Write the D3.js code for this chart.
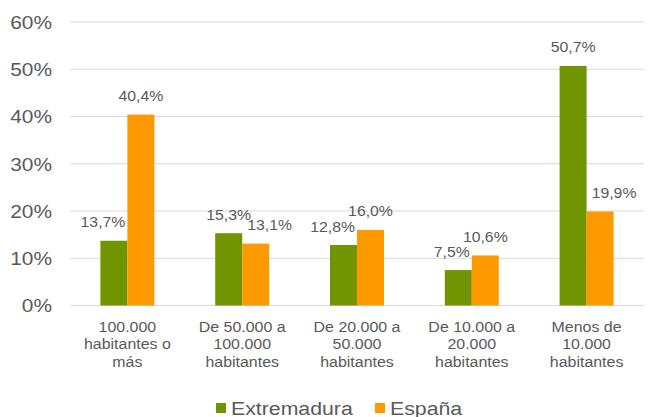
<!DOCTYPE html>
<html>
<head>
<meta charset="utf-8">
<script src="https://cdn.jsdelivr.net/npm/d3@7"></script>
<style>
    body { margin: 0; background: #fff; }
    text { font-family: "Liberation Sans", Arial, sans-serif; fill: #595959; }
</style>
</head>
<body>
<div id="chart"></div>
<script>
var categories = [
    ["100.000", "habitantes o", "más"],
    ["De 50.000 a", "100.000", "habitantes"],
    ["De 20.000 a", "50.000", "habitantes"],
    ["De 10.000 a", "20.000", "habitantes"],
    ["Menos de", "10.000", "habitantes"]
];
var seriesNames = ["Extremadura", "España"];
var extremadura = [13.7, 15.3, 12.8, 7.5, 50.7];
var espana = [40.4, 13.1, 16.0, 10.6, 19.9];
var yTicks = [0, 10, 20, 30, 40, 50, 60];

(function () {
    "use strict";

    var width = 649,
        height = 417,
        colors = ["#709500", "#ff9900"],
        series = [extremadura, espana],
        labelScale = 1.13,
        labelLift = 13.5;

    // text in the source is a little stretched sideways
    function place(px, py, sx) {
        return "translate(" + px + "," + py + ") scale(" + sx + ",1)";
    }

    var svg = d3.select("#chart").append("svg")
        .attr("width", width)
        .attr("height", height);

    var x = d3.scaleBand()
        .domain(d3.range(categories.length))
        .range([70, 644]);

    var x1 = d3.scaleBand()
        .domain(d3.range(series.length))
        .range([0, 54]);

    var y = d3.scaleLinear()
        .domain([0, 60])
        .range([305.5, 22]);

    // gridlines
    svg.append("g")
        .selectAll("line")
        .data(yTicks)
        .enter()
        .append("line")
        .attr("x1", 70)
        .attr("x2", 644)
        .attr("y1", function (d) { return y(d); })
        .attr("y2", function (d) { return y(d); })
        .attr("stroke", "#d9d9d9")
        .attr("stroke-width", 1);

    // y tick labels
    svg.append("g")
        .selectAll("text")
        .data(yTicks)
        .enter()
        .append("text")
        .attr("transform", function (d) { return place(52, y(d), 1.1); })
        .attr("dy", "0.36em")
        .attr("text-anchor", "end")
        .style("font-size", "19px")
        .text(function (d) { return d + "%"; });

    // bars
    var groups = svg.append("g")
        .selectAll("g")
        .data(categories)
        .enter()
        .append("g")
        .attr("transform", function (d, i) {
            return "translate(" + (x(i) + x.bandwidth() / 2 - 27) + ",0)";
        });

    function cells(d, i) {
        return series.map(function (s, j) { return {s: j, i: i, v: s[i]}; });
    }

    groups.selectAll("rect")
        .data(cells)
        .enter()
        .append("rect")
        .attr("x", function (d) { return x1(d.s); })
        .attr("width", x1.bandwidth())
        .attr("y", function (d) { return y(d.v); })
        .attr("height", function (d) { return y(0) - y(d.v); })
        .attr("fill", function (d) { return colors[d.s]; });

    var labels = groups.selectAll("text.val")
        .data(cells)
        .enter()
        .append("text")
        .attr("class", "val")
        .attr("text-anchor", "middle")
        .style("font-size", "14px")
        .text(function (d) { return d.v.toFixed(1).replace(".", ",") + "%"; });

    // push a label sideways when the neighbour bar or label gets in its way
    labels.attr("transform", function (d) {
        var w = this.getComputedTextLength() * labelScale,
            base = y(d.v) - labelLift,
            cx = x1(d.s) + x1.bandwidth() / 2;
        if (d.s === 0) {
            var other = y(espana[d.i]);
            if (other < base + 3) {
                cx = x1(1) - 2 - w / 2;
            }
        } else {
            var greenTop = y(extremadura[d.i]) - labelLift - 11;
            if (base + 3 > greenTop && extremadura[d.i] > d.v) {
                cx = x1(0) + x1.bandwidth() + 5 + w / 2;
            }
        }
        return place(cx, base, labelScale);
    });

    // category labels
    var cat = svg.append("g")
        .selectAll("text")
        .data(categories)
        .enter()
        .append("text")
        .attr("text-anchor", "middle")
        .attr("transform", function (d, i) {
            return place(x(i) + x.bandwidth() / 2, 332, 1.1);
        })
        .style("font-size", "14.5px");

    cat.selectAll("tspan")
        .data(function (d) { return d; })
        .enter()
        .append("tspan")
        .attr("x", 0)
        .attr("dy", function (d, i) { return i === 0 ? 0 : 17.5; })
        .text(function (d) { return d; });

    // legend
    var legendX = [216, 375];
    var legend = svg.append("g")
        .selectAll("g")
        .data(seriesNames)
        .enter()
        .append("g")
        .attr("transform", function (d, i) {
            return "translate(" + legendX[i] + ",403)";
        });

    legend.append("rect")
        .attr("width", 10)
        .attr("height", 10)
        .attr("fill", function (d, i) { return colors[i]; });

    legend.append("text")
        .attr("transform", place(15, 5, 1.12))
        .attr("dy", "0.36em")
        .style("font-size", "19px")
        .text(function (d) { return d; });
}());
</script>
</body>
</html>
